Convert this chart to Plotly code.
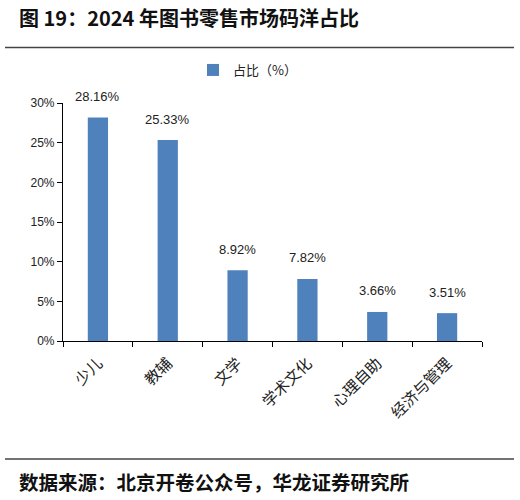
import plotly.graph_objects as go

categories = ["少儿", "教辅", "文学", "学术文化", "心理自助", "经济与管理"]
values = [28.16, 25.33, 8.92, 7.82, 3.66, 3.51]
series_name = "占比（%）"
y_ticks = [0, 5, 10, 15, 20, 25, 30]
y_tick_labels = [f"{v}%" for v in y_ticks]
title_text = "图 19：2024 年图书零售市场码洋占比"
source_text = "数据来源：北京开卷公众号，华龙证券研究所"

bar_color = "#4F81BD"
cjk = "Noto Sans CJK SC"

fig = go.Figure()
fig.add_trace(go.Bar(
    x=categories, y=values, name=series_name,
    marker=dict(color=bar_color, line=dict(width=0)),
    width=0.29, showlegend=True,
))

annotations = []
for c, v in zip(categories, values):
    annotations.append(dict(
        x=c, y=v, xref="x", yref="y", text=f"{v:.2f}%", showarrow=False,
        yshift=21, font=dict(family="Liberation Sans, " + cjk, size=13, color="#222"),
    ))

W, H = 520, 500
def px(x):
    return (x - 63) / (482 - 63)
def py(y):
    return (341 - y) / (341 - 103)

annotations.append(dict(
    x=px(17), y=py(18), xref="paper", yref="paper", xanchor="left", yanchor="middle",
    text="<b>" + title_text + "</b>", showarrow=False,
    font=dict(family=cjk, size=20, color="#111"),
))
annotations.append(dict(
    x=px(17), y=py(481), xref="paper", yref="paper", xanchor="left", yanchor="middle",
    text="<b>" + source_text + "</b>", showarrow=False,
    font=dict(family=cjk, size=19.5, color="#111"),
))

shapes = [
    dict(type="line", xref="paper", yref="paper", x0=px(5), x1=px(514), y0=py(47.5), y1=py(47.5),
         line=dict(color="#444", width=1.5)),
    dict(type="line", xref="paper", yref="paper", x0=px(5), x1=px(514), y0=py(459), y1=py(459),
         line=dict(color="#444", width=1.5)),
]

fig.update_layout(
    width=W, height=H,
    margin=dict(l=63, r=38, t=103, b=159),
    plot_bgcolor="white", paper_bgcolor="white",
    annotations=annotations, shapes=shapes,
    bargap=0.7,
    legend=dict(orientation="h", x=px(193), y=py(70), xanchor="left", yanchor="middle",
                font=dict(family=cjk, size=13, color="#222"), bgcolor="rgba(0,0,0,0)",
                itemwidth=30),
    xaxis=dict(
        showline=True, linecolor="black", linewidth=1.2, ticks="outside", ticklen=5,
        tickcolor="black", tickson="boundaries", tickangle=-45, ticklabelstandoff=6,
        tickfont=dict(family=cjk, size=15.5, color="#222"), showgrid=False,
    ),
    yaxis=dict(
        range=[0, 30], tickvals=y_ticks, ticktext=y_tick_labels,
        showline=True, linecolor="black", linewidth=1.2, ticks="outside", ticklen=5,
        tickcolor="black", showgrid=False, zeroline=False,
        tickfont=dict(family="Liberation Sans", size=12, color="#222"),
    ),
)

fig.write_html("out.html")
